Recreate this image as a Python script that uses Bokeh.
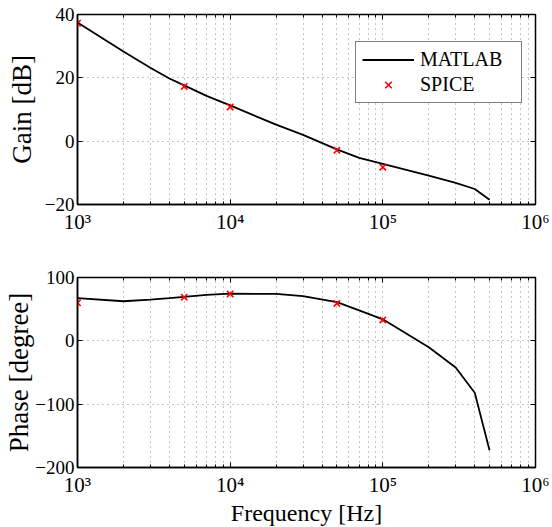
from bokeh.plotting import figure
from bokeh.models import (LinearAxis, LogAxis, FixedTicker, Legend, LegendItem,
                          CustomJSTickFormatter)
from bokeh.layouts import column
from bokeh.embed import file_html
from bokeh.resources import INLINE

# MATLAB model curve
freq = [1e3, 2e3, 3e3, 4e3, 5e3, 7e3, 1e4, 2e4, 3e4, 5e4, 7e4, 1e5, 2e5, 3e5, 4e5, 5e5]
gain = [37.5, 28.3, 23.2, 19.8, 17.6, 14.3, 11.3, 5.2, 2.0, -2.6, -5.3, -7.2, -10.9, -13.2, -15.1, -18.5]
phase = [67.5, 62.5, 65.0, 67.5, 69.5, 72.5, 74.5, 74.0, 70.5, 61.0, 48.0, 34.0, -10.0, -42.0, -82.0, -173.0]

# SPICE simulation points
spice_freq = [1e3, 5e3, 1e4, 5e4, 1e5]
spice_gain = [37.2, 17.3, 10.8, -2.9, -8.2]
spice_phase = [60.0, 69.0, 74.0, 59.0, 33.0]

xticks = [1e3, 1e4, 1e5, 1e6]
xtick_labels = ["10\u00b3", "10\u2074", "10\u2075", "10\u2076"]
x_minor = [k * d for d in (1e3, 1e4, 1e5) for k in range(2, 10)]
gain_ticks = [-20, 0, 20, 40]
phase_ticks = [-200, -100, 0, 100]

FONT = "'Liberation Serif', 'Times New Roman', Times, serif"
GRID = "#8c8c8c"


def style(p, yticks, ylabel, ylabel_standoff, xlabel=None):
    xt = FixedTicker(ticks=xticks, minor_ticks=x_minor)
    yt = FixedTicker(ticks=yticks, minor_ticks=[])
    fmt = CustomJSTickFormatter(args=dict(tvals=xticks, tlabels=xtick_labels), code="""
        for (let i = 0; i < tvals.length; i++) {
            if (Math.abs(tvals[i] - tick) < 1e-6 * tvals[i]) return tlabels[i];
        }
        return '';
    """)
    p.xaxis.ticker = xt
    p.xaxis.formatter = fmt
    p.yaxis.ticker = yt
    for ax in (p.xaxis[0], p.yaxis[0]):
        ax.major_tick_in = 5
        ax.major_tick_out = 0
        ax.minor_tick_in = 3
        ax.minor_tick_out = 0
        ax.axis_line_color = "black"
        ax.axis_line_width = 1.5
        ax.major_tick_line_color = "black"
        ax.minor_tick_line_color = "black"
        ax.major_label_text_font = FONT
        ax.major_label_text_color = "black"
        ax.axis_label_text_font = FONT
        ax.axis_label_text_font_style = "normal"
        ax.axis_label_text_color = "black"
    p.xaxis.major_label_text_font_size = "21px"
    p.yaxis.major_label_text_font_size = "19px"
    p.yaxis.minor_tick_line_color = None
    p.yaxis.major_label_standoff = 3
    p.xaxis.major_label_standoff = 5
    p.yaxis.axis_label = ylabel
    p.yaxis.axis_label_text_font_size = "27px"
    p.yaxis.axis_label_standoff = ylabel_standoff
    if xlabel:
        p.xaxis.axis_label = xlabel
        p.xaxis.axis_label_text_font_size = "24px"
        p.xaxis.axis_label_standoff = 0

    ra = LinearAxis(ticker=yt, major_label_text_font_size="1px", major_label_text_color=None,
                    major_label_standoff=0,
                    axis_line_color=None, major_tick_in=5, major_tick_out=0,
                    minor_tick_line_color=None, major_tick_line_color="black")
    p.add_layout(ra, "right")
    ta = LogAxis(ticker=xt, major_label_text_font_size="1px", major_label_text_color=None,
                 major_label_standoff=0,
                 axis_line_color=None, major_tick_in=5, major_tick_out=0,
                 minor_tick_in=3, minor_tick_out=0,
                 major_tick_line_color="black", minor_tick_line_color="black")
    p.add_layout(ta, "above")

    p.xgrid.ticker = xt
    p.ygrid.ticker = yt
    for g in (p.xgrid[0], p.ygrid[0]):
        g.grid_line_color = GRID
        g.grid_line_dash = "1 4"
        g.grid_line_width = 1
    p.xgrid.minor_grid_line_color = GRID
    p.xgrid.minor_grid_line_dash = "1 4"
    p.outline_line_color = "black"
    p.outline_line_width = 1.5
    p.background_fill_color = "white"
    p.border_fill_color = "white"


p1 = figure(frame_width=458, frame_height=190, x_axis_type="log", x_range=(1e3, 1e6),
            y_range=(-20, 40), output_backend="svg", toolbar_location=None,
            min_border_left=77, min_border_right=15, min_border_top=14, min_border_bottom=50)
style(p1, gain_ticks, "Gain [dB]", 5)
l1 = p1.line(freq, gain, color="black", line_width=1.8)
s1 = p1.scatter(spice_freq, spice_gain, marker="x", size=9, color="red", line_width=1.6)

legend = Legend(items=[LegendItem(label="MATLAB", renderers=[l1]),
                       LegendItem(label="SPICE", renderers=[s1])],
                location=(278, 101))
legend.border_line_color = "black"
legend.border_line_width = 1
legend.label_text_font = FONT
legend.label_text_font_size = "20px"
legend.label_text_color = "black"
legend.glyph_width = 52
legend.glyph_height = 23
legend.label_height = 23
legend.label_width = 95
legend.label_standoff = 6
legend.padding = 6
legend.spacing = 2
legend.margin = 0
legend.background_fill_alpha = 1
p1.add_layout(legend)

p2 = figure(frame_width=458, frame_height=190, x_axis_type="log", x_range=(1e3, 1e6),
            y_range=(-200, 100), output_backend="svg", toolbar_location=None,
            min_border_left=77, min_border_right=15, min_border_top=23, min_border_bottom=56)
style(p2, phase_ticks, "Phase [degree]", -2, xlabel="Frequency [Hz]")
p2.line(freq, phase, color="black", line_width=1.8)
p2.scatter(spice_freq, spice_phase, marker="x", size=9, color="red", line_width=1.6)

layout = column(p1, p2, spacing=0)
open("out.html", "w").write(file_html(layout, INLINE))
